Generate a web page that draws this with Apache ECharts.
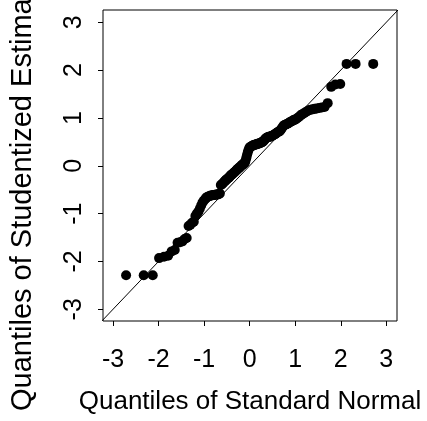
<!DOCTYPE html>
<html>
<head>
<meta charset="utf-8">
<script src="https://cdn.jsdelivr.net/npm/echarts@6/dist/echarts.min.js"></script>
<style>
  html, body { margin: 0; padding: 0; background: #fff; }
  #qqChart { width: 427px; height: 421px; }
</style>
</head>
<body>
<div id="qqChart"></div>
<script>
  // normal quantiles (x) and sorted studentized estimates (y)
  var normalQuantiles = [
    -2.713, -2.326, -2.128, -1.989, -1.881, -1.791, -1.713, -1.645, -1.583, -1.527,
    -1.476, -1.428, -1.383, -1.341, -1.301, -1.263, -1.227, -1.192, -1.159, -1.126,
    -1.095, -1.065, -1.036, -1.008, -0.980, -0.954, -0.928, -0.903, -0.878, -0.854,
    -0.830, -0.806, -0.783, -0.761, -0.739, -0.717, -0.696, -0.674, -0.654, -0.633,
    -0.613, -0.593, -0.573, -0.553, -0.534, -0.515, -0.496, -0.477, -0.458, -0.440,
    -0.421, -0.403, -0.385, -0.367, -0.349, -0.332, -0.314, -0.297, -0.279, -0.262,
    -0.245, -0.228, -0.210, -0.193, -0.176, -0.160, -0.143, -0.126, -0.109, -0.092,
    -0.075, -0.059, -0.042, -0.025, -0.008,
    0.008, 0.025, 0.042, 0.059, 0.075, 0.092, 0.109, 0.126, 0.143, 0.160,
    0.176, 0.193, 0.210, 0.228, 0.245, 0.262, 0.279, 0.297, 0.314, 0.332,
    0.349, 0.367, 0.385, 0.403, 0.421, 0.440, 0.458, 0.477, 0.496, 0.515,
    0.534, 0.553, 0.573, 0.593, 0.613, 0.633, 0.654, 0.674, 0.696, 0.717,
    0.739, 0.761, 0.783, 0.806, 0.830, 0.854, 0.878, 0.903, 0.928, 0.954,
    0.980, 1.008, 1.036, 1.065, 1.095, 1.126, 1.159, 1.192, 1.227, 1.263,
    1.301, 1.341, 1.383, 1.428, 1.476, 1.527, 1.583, 1.645, 1.713, 1.791,
    1.881, 1.989, 2.128, 2.326, 2.713
  ];
  var studentized = [
    -2.29, -2.29, -2.29, -1.93, -1.90, -1.88, -1.79, -1.76, -1.61, -1.60,
    -1.58, -1.53, -1.51, -1.26, -1.23, -1.19, -1.17, -1.05, -1.00, -0.96,
    -0.90, -0.83, -0.77, -0.73, -0.70, -0.67, -0.65, -0.64, -0.63, -0.62,
    -0.62, -0.61, -0.61, -0.61, -0.60, -0.60, -0.60, -0.59, -0.58, -0.40,
    -0.39, -0.37, -0.35, -0.33, -0.31, -0.29, -0.28, -0.26, -0.25, -0.23,
    -0.21, -0.19, -0.18, -0.16, -0.15, -0.13, -0.12, -0.10, -0.08, -0.07,
    -0.05, -0.04, -0.02, -0.01, 0.01, 0.02, 0.03, 0.05, 0.06, 0.10,
    0.16, 0.22, 0.28, 0.33, 0.37, 0.39, 0.40, 0.41, 0.42, 0.43,
    0.43, 0.44, 0.44, 0.45, 0.45, 0.46, 0.46, 0.47, 0.47, 0.48,
    0.49, 0.50, 0.51, 0.53, 0.55, 0.57, 0.58, 0.59, 0.60, 0.60,
    0.61, 0.61, 0.62, 0.63, 0.64, 0.65, 0.66, 0.67, 0.69, 0.70,
    0.71, 0.72, 0.74, 0.77, 0.80, 0.83, 0.85, 0.86, 0.87, 0.88,
    0.89, 0.91, 0.92, 0.93, 0.95, 0.96, 0.97, 0.99, 1.01, 1.03,
    1.06, 1.08, 1.10, 1.12, 1.14, 1.16, 1.17, 1.18, 1.19, 1.20,
    1.21, 1.22, 1.23, 1.31, 1.65, 1.70, 1.71, 2.13, 2.13, 2.13
  ];
  var tickValues = [-3, -2, -1, 0, 1, 2, 3];
  var refLine = [-3.4, 3.4];   // y = x reference line ends

  var points = normalQuantiles.map(function (q, i) { return [q, studentized[i]]; });

  var font = "'Liberation Sans', Arial, Helvetica, sans-serif";
  var chart = echarts.init(document.getElementById('qqChart'));
  chart.setOption({
    animation: false,
    backgroundColor: '#fff',
    grid: {
      left: 103, right: 30, top: 10, bottom: 100,
      show: true, borderColor: '#000', borderWidth: 1, backgroundColor: 'transparent'
    },
    xAxis: {
      type: 'value',
      min: -3.22, max: 3.235,
      axisLine: { show: false, onZero: false },
      axisTick: { show: true, customValues: tickValues, length: 5, lineStyle: { color: '#000' } },
      axisLabel: { customValues: tickValues, margin: 27, fontSize: 25, color: '#000', fontFamily: font },
      splitLine: { show: false },
      name: 'Quantiles of Standard Normal',
      nameLocation: 'middle',
      nameGap: 68,
      nameTextStyle: { fontSize: 26, color: '#000', fontFamily: font }
    },
    yAxis: {
      type: 'value',
      min: -3.245, max: 3.257,
      axisLine: { show: false, onZero: false },
      axisTick: { show: true, customValues: tickValues, length: 5, lineStyle: { color: '#000' } },
      axisLabel: { customValues: tickValues, rotate: 90, margin: 16, fontSize: 25, color: '#000', fontFamily: font },
      splitLine: { show: false }
    },
    graphic: [{
      type: 'text',
      x: 23, y: 411,
      rotation: Math.PI / 2,
      style: {
        text: 'Quantiles of Studentized Estimates',
        fontSize: 29, fontFamily: font, fill: '#000',
        align: 'left', verticalAlign: 'middle'
      }
    }],
    series: [
      {
        type: 'line',
        data: [[refLine[0], refLine[0]], [refLine[1], refLine[1]]],
        symbol: 'none',
        clip: true,
        lineStyle: { color: '#000', width: 1 },
        silent: true
      },
      {
        type: 'scatter',
        data: points,
        symbol: 'circle',
        symbolSize: 10,
        itemStyle: { color: '#000', opacity: 1 }
      }
    ]
  });
</script>
</body>
</html>
